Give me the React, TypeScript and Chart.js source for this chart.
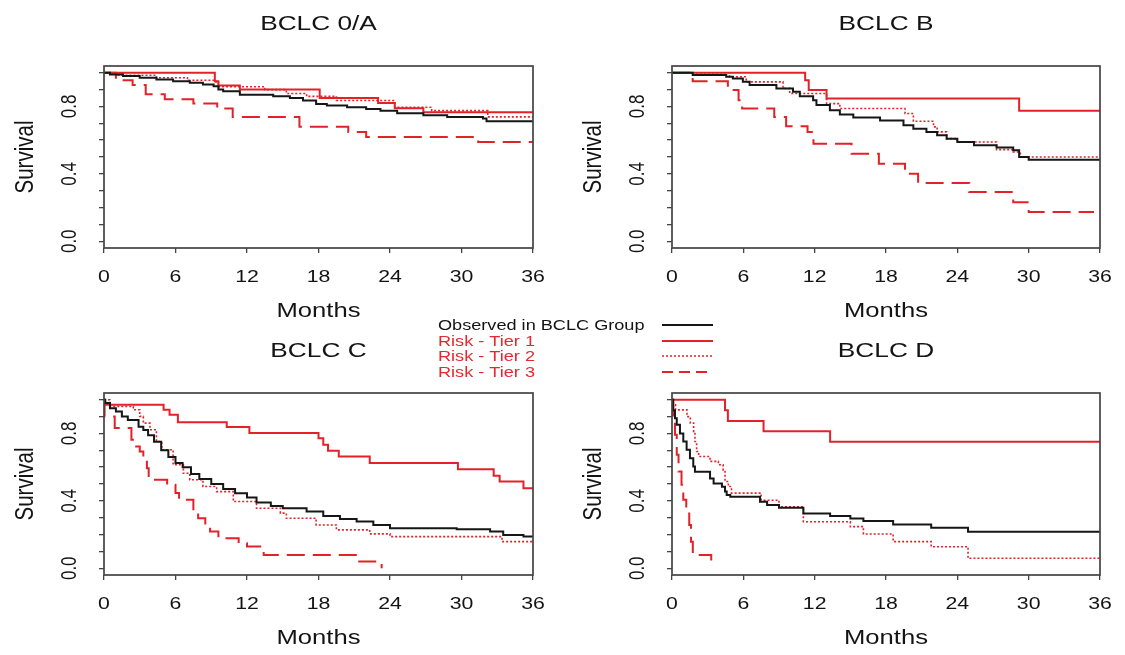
import React, { useEffect, useRef } from 'react';
import { Chart, registerables } from 'chart.js';

Chart.register(...registerables);

const FONT = '"Liberation Sans", Arial, Helvetica, sans-serif';
const RED = 'rgb(226,34,40)';
const BLACK = '#161616';
const AXIS = '#444444';
const TEXT = '#141414';
const SX = 1.25;

const xTickValues = [0, 6, 12, 18, 24, 30, 36];
const yTickValues = [0, 0.1, 0.2, 0.3, 0.4, 0.5, 0.6, 0.7, 0.8, 0.9, 1.0];
const yLabelValues = [0, 0.4, 0.8];
const yLabelTexts = ['0.0', '0.4', '0.8'];
const xAxisTitle = 'Months';
const yAxisTitle = 'Survival';
const panelTitles = ['BCLC 0/A', 'BCLC B', 'BCLC C', 'BCLC D'];
const legendLabels = ['Observed in BCLC Group', 'Risk - Tier 1', 'Risk - Tier 2', 'Risk - Tier 3'];

// ---- BCLC 0/A ----
const aObsT = [0, 0.5, 1.6, 3.0, 4.4, 5.8, 7.2, 8.3, 9.2, 9.6, 10.0, 11.4, 14.2, 15.6, 16.7, 17.8, 18.7, 20.4, 22.0, 23.2, 24.6, 26.8, 28.8, 31.8, 32.1, 36];
const aObsS = [1, 0.99, 0.98, 0.97, 0.96, 0.95, 0.94, 0.93, 0.92, 0.9, 0.89, 0.87, 0.86, 0.85, 0.835, 0.815, 0.805, 0.795, 0.785, 0.775, 0.76, 0.748, 0.738, 0.728, 0.712, 0.712];
const aT1T = [0, 9.3, 9.6, 11.4, 18.1, 23.0, 24.4, 26.8, 36];
const aT1S = [1, 0.95, 0.925, 0.9, 0.85, 0.82, 0.79, 0.765, 0.765];
const aT2T = [0, 1.0, 4.4, 7.0, 9.4, 9.6, 13.5, 15.3, 17.0, 19.5, 24.4, 27.5, 32.2, 36];
const aT2S = [1, 0.985, 0.97, 0.955, 0.94, 0.917, 0.9, 0.877, 0.86, 0.835, 0.795, 0.775, 0.738, 0.738];
const aT3T = [0, 1.0, 2.4, 3.5, 5.1, 7.5, 9.5, 10.8, 16.4, 20.5, 22.0, 31.4, 36];
const aT3S = [1, 0.956, 0.927, 0.873, 0.843, 0.818, 0.788, 0.738, 0.679, 0.649, 0.619, 0.589, 0.589];

// ---- BCLC B ----
const bObsT = [0, 1.74, 4.56, 5.12, 5.96, 6.53, 8.78, 10.18, 10.75, 11.87, 12.15, 13.28, 14.12, 15.25, 17.5, 19.47, 20.3, 21.4, 22.3, 23.1, 24.0, 25.4, 27.3, 28.7, 29.2, 30.0, 36];
const bObsS = [1, 0.986, 0.976, 0.966, 0.946, 0.927, 0.907, 0.887, 0.861, 0.837, 0.808, 0.778, 0.752, 0.734, 0.717, 0.688, 0.667, 0.649, 0.629, 0.609, 0.589, 0.569, 0.556, 0.54, 0.5, 0.484, 0.484];
const bT1T = [0, 11.2, 11.5, 13.0, 29.2, 36];
const bT1S = [1, 0.956, 0.897, 0.847, 0.774, 0.774];
const bT2T = [0, 4.84, 6.24, 9.34, 9.9, 13.0, 14.12, 19.6, 20.3, 22.0, 22.3, 23.1, 24.0, 27.3, 28.7, 29.3, 36];
const bT2S = [1, 0.976, 0.946, 0.907, 0.877, 0.817, 0.788, 0.758, 0.712, 0.679, 0.649, 0.609, 0.589, 0.544, 0.53, 0.5, 0.5];
const bT3T = [0, 1.74, 4.7, 5.6, 5.9, 8.6, 9.6, 11.4, 11.9, 15.1, 17.4, 19.6, 20.7, 25.0, 28.7, 30.0, 35.5];
const bT3S = [1, 0.95, 0.897, 0.837, 0.788, 0.738, 0.683, 0.649, 0.579, 0.52, 0.46, 0.4, 0.345, 0.292, 0.232, 0.173, 0.173];

// ---- BCLC C ----
const cObsT = [0, 0.1, 0.5, 1.0, 1.5, 2.0, 2.9, 3.3, 3.7, 4.2, 4.8, 5.4, 6.0, 6.6, 7.3, 8.0, 9.0, 10.0, 11.0, 12.0, 12.8, 14.0, 15.0, 17.0, 18.4, 19.8, 21.2, 22.6, 24.0, 29.6, 32.4, 33.5, 35.2, 36];
const cObsS = [1, 0.98, 0.95, 0.93, 0.9, 0.88, 0.84, 0.82, 0.79, 0.75, 0.7, 0.66, 0.625, 0.6, 0.56, 0.53, 0.5, 0.47, 0.445, 0.42, 0.39, 0.37, 0.356, 0.337, 0.31, 0.293, 0.277, 0.257, 0.238, 0.232, 0.218, 0.198, 0.188, 0.188];
const cT1T = [0, 0.1, 5.0, 5.5, 6.2, 10.3, 12.2, 18.0, 18.4, 18.8, 19.7, 22.3, 29.7, 32.7, 33.2, 35.2, 36];
const cT1S = [1, 0.97, 0.941, 0.911, 0.867, 0.838, 0.802, 0.772, 0.733, 0.697, 0.663, 0.624, 0.588, 0.549, 0.515, 0.475, 0.475];
const cT2T = [0, 0.5, 2.46, 3.0, 3.3, 3.86, 4.4, 4.84, 5.8, 6.66, 7.2, 8.3, 9.45, 10.85, 12.8, 14.8, 15.3, 17.8, 19.5, 22.3, 24.0, 33.4, 36];
const cT2S = [1, 0.96, 0.941, 0.901, 0.861, 0.822, 0.752, 0.703, 0.614, 0.564, 0.525, 0.485, 0.455, 0.396, 0.356, 0.327, 0.297, 0.257, 0.228, 0.204, 0.188, 0.158, 0.158];
const cT3T = [0, 0.05, 0.9, 2.3, 2.7, 3.0, 3.3, 3.6, 3.75, 5.3, 6.0, 6.3, 7.5, 7.9, 8.5, 8.9, 9.6, 11.3, 12.0, 13.4, 21.3, 23.3];
const cT3S = [1, 0.9, 0.832, 0.762, 0.723, 0.693, 0.644, 0.594, 0.525, 0.495, 0.446, 0.406, 0.327, 0.297, 0.257, 0.218, 0.178, 0.149, 0.129, 0.079, 0.04, 0.0];

// ---- BCLC D ----
const dObsT = [0, 0.1, 0.25, 0.4, 0.67, 0.95, 1.23, 1.51, 1.79, 1.93, 3.2, 3.5, 4.2, 4.46, 4.6, 4.9, 7.4, 8.0, 9.0, 11.05, 13.3, 15.0, 16.1, 18.6, 21.8, 24.9, 36];
const dObsS = [1, 0.937, 0.89, 0.851, 0.8, 0.752, 0.703, 0.653, 0.604, 0.572, 0.533, 0.503, 0.483, 0.455, 0.434, 0.424, 0.394, 0.375, 0.359, 0.325, 0.31, 0.296, 0.28, 0.26, 0.241, 0.217, 0.217];
const dT1T = [0, 4.46, 4.7, 7.7, 13.3, 36];
const dT1S = [1, 0.937, 0.874, 0.813, 0.75, 0.75];
const dT2T = [0, 0.1, 0.3, 1.26, 1.54, 1.82, 1.93, 2.07, 2.24, 3.2, 3.9, 4.3, 4.46, 4.74, 5.0, 7.5, 9.0, 11.05, 15.0, 16.1, 18.6, 21.8, 24.9, 36];
const dT2S = [1, 0.97, 0.94, 0.9, 0.862, 0.812, 0.752, 0.693, 0.663, 0.634, 0.614, 0.584, 0.515, 0.485, 0.446, 0.404, 0.365, 0.276, 0.247, 0.203, 0.158, 0.128, 0.059, 0.059];
const dT3T = [0, 0.1, 0.25, 0.4, 0.55, 0.8, 0.95, 1.2, 1.45, 1.6, 1.75, 3.3];
const dT3S = [1, 0.891, 0.792, 0.673, 0.574, 0.495, 0.406, 0.336, 0.257, 0.158, 0.079, 0.0];

type Curve = { t: number[]; s: number[] };

const STYLES = [
  { color: BLACK, dash: [] as number[], width: 2 },
  { color: RED, dash: [] as number[], width: 2 },
  { color: RED, dash: [2, 2], width: 1.6 },
  { color: RED, dash: [18, 8], width: 2 },
];
const LEGEND_DASH = [[], [], [2, 2], [11, 6]];

function drawText(ctx: CanvasRenderingContext2D, text: string, cx: number, cy: number, size: number, rot: number, align: CanvasTextAlign = 'center') {
  ctx.save();
  ctx.translate(cx, cy);
  ctx.scale(SX, 1);
  ctx.rotate(rot);
  ctx.font = `${size}px ${FONT}`;
  ctx.textAlign = align;
  ctx.textBaseline = 'alphabetic';
  ctx.fillText(text, 0, size * 0.358);
  ctx.restore();
}

type PanelProps = {
  left: number; top: number; width: number; height: number;
  plotLeft: number; plotRight: number; plotTop: number; plotBottom: number;
  title: string; curves: Curve[];
};

function Panel(p: PanelProps) {
  const ref = useRef<HTMLCanvasElement>(null);
  useEffect(() => {
    const canvas = ref.current!;
    const textPlugin = {
      id: 'kmText',
      afterDraw(chart: any) {
        const { ctx, chartArea: ca, scales } = chart;
        const xs = scales.x;
        const ys = scales.y;
        ctx.save();
        ctx.strokeStyle = AXIS;
        ctx.lineWidth = 1.7;
        ctx.strokeRect(ca.left, ca.top, ca.right - ca.left, ca.bottom - ca.top);
        ctx.fillStyle = TEXT;
        const cx = (ca.left + ca.right) / 2;
        drawText(ctx, p.title, cx, 22.5, 21, 0);
        xTickValues.forEach((v) => drawText(ctx, String(v), xs.getPixelForValue(v), ca.bottom + 28, 17, 0));
        drawText(ctx, xAxisTitle, cx, ca.bottom + 62, 20.5, 0);
        yLabelValues.forEach((v, i) => drawText(ctx, yLabelTexts[i], ca.left - 36, ys.getPixelForValue(v), 17, -Math.PI / 2));
        drawText(ctx, yAxisTitle, ca.left - 80, (ca.top + ca.bottom) / 2, 20.5, -Math.PI / 2);
        ctx.restore();
      },
    };
    const datasets = p.curves.map((c, i) => ({
      data: c.t.map((x, j) => ({ x, y: c.s[j] })),
      borderColor: STYLES[i].color,
      borderWidth: STYLES[i].width,
      borderDash: STYLES[i].dash,
      stepped: true as const,
      pointRadius: 0,
      fill: false,
      tension: 0,
    }));
    const axisCommon = {
      type: 'linear' as const,
      ticks: { display: false },
      grid: { drawOnChartArea: false, drawTicks: true, tickLength: 5, color: AXIS, lineWidth: 1.3 },
      border: { display: false },
    };
    const chart = new Chart(canvas, {
      type: 'line',
      data: { datasets },
      options: {
        animation: false,
        responsive: true,
        maintainAspectRatio: false,
        layout: { padding: { top: p.plotTop, right: p.width - p.plotRight, left: 0, bottom: 0 } },
        plugins: { legend: { display: false }, tooltip: { enabled: false }, title: { display: false } },
        scales: {
          x: {
            ...axisCommon,
            min: 0,
            max: 36,
            afterBuildTicks: (s: any) => { s.ticks = xTickValues.map((v) => ({ value: v })); },
            afterFit: (s: any) => { s.height = p.height - p.plotBottom; },
          },
          y: {
            ...axisCommon,
            min: -0.04,
            max: 1.04,
            afterBuildTicks: (s: any) => { s.ticks = yTickValues.map((v) => ({ value: v })); },
            afterFit: (s: any) => { s.width = p.plotLeft; },
          },
        },
      } as any,
      plugins: [textPlugin],
    });
    return () => chart.destroy();
  }, []);
  return (
    <div style={{ position: 'absolute', left: p.left, top: p.top, width: p.width, height: p.height }}>
      <canvas ref={ref} />
    </div>
  );
}

function Legend() {
  const ref = useRef<HTMLCanvasElement>(null);
  useEffect(() => {
    const c = ref.current!;
    const ctx = c.getContext('2d')!;
    ctx.clearRect(0, 0, c.width, c.height);
    const rows = [325, 341, 356, 372];
    legendLabels.forEach((label, i) => {
      ctx.fillStyle = i === 0 ? TEXT : 'rgb(230,40,46)';
      drawText(ctx, label, 438, rows[i], 14.5, 0, 'left');
      ctx.save();
      ctx.strokeStyle = i === 0 ? BLACK : RED;
      ctx.lineWidth = i === 2 ? 1.5 : 2;
      ctx.setLineDash(LEGEND_DASH[i]);
      ctx.beginPath();
      ctx.moveTo(662, rows[i]);
      ctx.lineTo(713, rows[i]);
      ctx.stroke();
      ctx.restore();
    });
  }, []);
  return <canvas ref={ref} width={1125} height={655} style={{ position: 'absolute', left: 0, top: 0, pointerEvents: 'none' }} />;
}

export default function App() {
  const curvesA: Curve[] = [{ t: aObsT, s: aObsS }, { t: aT1T, s: aT1S }, { t: aT2T, s: aT2S }, { t: aT3T, s: aT3S }];
  const curvesB: Curve[] = [{ t: bObsT, s: bObsS }, { t: bT1T, s: bT1S }, { t: bT2T, s: bT2S }, { t: bT3T, s: bT3S }];
  const curvesC: Curve[] = [{ t: cObsT, s: cObsS }, { t: cT1T, s: cT1S }, { t: cT2T, s: cT2S }, { t: cT3T, s: cT3S }];
  const curvesD: Curve[] = [{ t: dObsT, s: dObsS }, { t: dT1T, s: dT1S }, { t: dT2T, s: dT2S }, { t: dT3T, s: dT3S }];
  return (
    <div style={{ position: 'absolute', left: 0, top: 0, width: 1125, height: 655, background: '#ffffff', overflow: 'hidden' }}>
      <Panel left={0} top={0} width={560} height={327} plotLeft={104} plotRight={533} plotTop={66} plotBottom={248} title={panelTitles[0]} curves={curvesA} />
      <Panel left={560} top={0} width={565} height={327} plotLeft={112} plotRight={540} plotTop={66} plotBottom={248} title={panelTitles[1]} curves={curvesB} />
      <Panel left={0} top={327} width={560} height={328} plotLeft={104} plotRight={533} plotTop={66} plotBottom={248} title={panelTitles[2]} curves={curvesC} />
      <Panel left={560} top={327} width={565} height={328} plotLeft={112} plotRight={540} plotTop={66} plotBottom={248} title={panelTitles[3]} curves={curvesD} />
      <Legend />
    </div>
  );
}
